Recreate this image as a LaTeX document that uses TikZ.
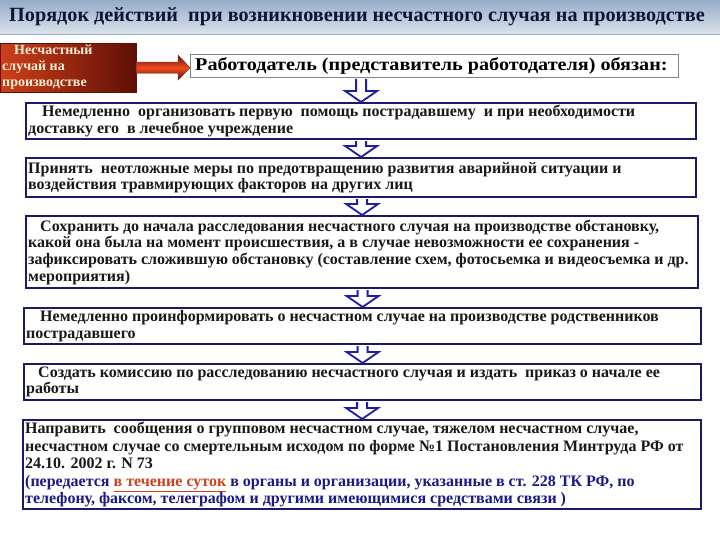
\documentclass[tikz,border=0pt]{standalone}
\usepackage{fontspec}
\setmainfont{Liberation Serif}
\usetikzlibrary{calc}
\definecolor{boxborder}{RGB}{26,26,105}
\definecolor{arrowblue}{RGB}{30,30,165}
\definecolor{titlecol}{RGB}{15,20,55}
\definecolor{bluetxt}{RGB}{25,25,135}
\definecolor{redtxt}{RGB}{205,65,30}
\definecolor{hdrborder}{RGB}{120,140,120}
\definecolor{bandtop}{RGB}{150,172,200}
\definecolor{bandbot}{RGB}{222,228,236}
\definecolor{redlight}{RGB}{240,75,30}
\definecolor{reddark}{RGB}{95,15,5}
\definecolor{creamtxt}{RGB}{255,238,215}
\tikzset{
  stepbox/.style={draw=boxborder, line width=2.2pt, fill=white, rectangle, inner sep=0pt, anchor=north west},
  boxtxt/.style={anchor=west, align=left, inner sep=0pt, font=\bfseries\fontsize{16}{16.6}\selectfont, text=black!90},
  harrow/.style={draw=arrowblue, line width=1.8pt, fill=white, line join=miter},
  redarrow/.style={top color=reddark, bottom color=reddark, middle color=redlight, draw=reddark!80, line width=0.4pt},
}
\newcommand\hollowdown[2]{%
  \draw[harrow] ($(#1.south -| #2.north)+(-5,1)$) -- ($(#2.north)+(-5,-11)$) -- ($(#2.north)+(-16,-11)$) -- (#2.north) -- ($(#2.north)+(16,-11)$) -- ($(#2.north)+(5,-11)$) -- ($(#1.south -| #2.north)+(5,1)$);}
\begin{document}
\begin{tikzpicture}[x=1pt,y=-1pt]
\useasboundingbox (0,0) rectangle (720,540);
\fill[white] (0,0) rectangle (720,540);
% title band
\shade[top color=bandtop, bottom color=bandbot] (0,0) rectangle (720,35);
\draw[bandtop, line width=1pt] (0,35) -- (720,35);
\node[font=\bfseries\fontsize{20.2}{21}\selectfont, text=titlecol, inner sep=0pt] (title) at (357,17) {Порядок действий\ \ при возникновении несчастного случая на производстве};

% red box
\node[rectangle, anchor=north west, minimum width=136pt, minimum height=49pt, inner sep=0pt,
  left color=redlight!85!black, middle color=redlight, right color=reddark, draw=reddark] (acc) at (0,43) {};
\node[anchor=north west, align=left, inner sep=0pt, text=creamtxt, font=\bfseries\fontsize{14}{16}\selectfont] (acctxt) at (2,45) {\hspace*{12pt}Несчастный\\случай на\\производстве};

% header
\node[rectangle, anchor=north west, minimum width=488pt, minimum height=23pt, inner sep=0pt, draw=hdrborder, line width=1pt, fill=white] (hdr) at (190,54) {};
\node[anchor=west, inner sep=0pt, font=\bfseries\fontsize{18}{18}\selectfont] (hdrtxt) at ($(hdr.west)+(5pt,0)$) {\scalebox{1.12}[1]{Работодатель (представитель работодателя) обязан:}};

% red arrow
\fill[redarrow] ($(acc.east)+(0,-5.5)$) -- ($(acc.east -| hdr.west)+(-12,-5.5)$) -- ($(acc.east -| hdr.west)+(-12,-12.5)$) -- (acc.east -| hdr.west) -- ($(acc.east -| hdr.west)+(-12,12.5)$) -- ($(acc.east -| hdr.west)+(-12,5.5)$) -- ($(acc.east)+(0,5.5)$) -- cycle;

% boxes
\node[stepbox, minimum width=670pt, minimum height=36pt] (b1) at (25,102) {};
\node[stepbox, minimum width=670pt, minimum height=39pt] (b2) at (25,157) {};
\node[stepbox, minimum width=672pt, minimum height=72pt] (b3) at (25,215) {};
\node[stepbox, minimum width=677pt, minimum height=36pt] (b4) at (23,307) {};
\node[stepbox, minimum width=677pt, minimum height=36pt] (b5) at (23,363) {};
\node[stepbox, minimum width=678pt, minimum height=89pt] (b6) at (22,419) {};

\node[boxtxt] (t1) at ($(b1.west)+(3pt,0)$) {\hspace*{14pt}Немедленно\ \ организовать первую\ \ помощь пострадавшему\ \ и при необходимости\\доставку его\ \ в лечебное учреждение};
\node[boxtxt] (t2) at ($(b2.west)+(3pt,0)$) {Принять\ \ неотложные меры по предотвращению развития аварийной ситуации и\\воздействия травмирующих факторов на других лиц};
\node[boxtxt] (t3) at ($(b3.west)+(3pt,0)$) {\hspace*{12pt}Сохранить до начала расследования несчастного случая на производстве обстановку,\\какой она была на момент происшествия, а в случае невозможности ее сохранения -\\зафиксировать сложившую обстановку (составление схем, фотосьемка и видеосъемка и др.\\мероприятия)};
\node[boxtxt] (t4) at ($(b4.west)+(3pt,0)$) {\hspace*{14pt}Немедленно проинформировать о несчастном случае на производстве родственников\\пострадавшего};
\node[boxtxt] (t5) at ($(b5.west)+(3pt,0)$) {\hspace*{12pt}Создать комиссию по расследованию несчастного случая и издать\ \ приказ о начале ее\\работы};
\node[boxtxt, font=\bfseries\fontsize{16}{17.5}\selectfont] (t6) at ($(b6.west)+(3pt,0)$) {Направить\ \ сообщения о групповом несчастном случае, тяжелом несчастном случае,\\несчастном случае со смертельным исходом по форме №1 Постановления Минтруда РФ от\\24.10. 2002 г. N 73\\\textcolor{bluetxt}{(передается \textcolor{redtxt}{\underline{в течение суток}} в органы и организации, указанные в ст. 228 ТК РФ, по}\\\textcolor{bluetxt}{телефону, факсом, телеграфом и другими имеющимися средствами связи )}};

% down arrows
\hollowdown{hdr}{b1}
\hollowdown{b1}{b2}
\hollowdown{b2}{b3}
\hollowdown{b3}{b4}
\hollowdown{b4}{b5}
\hollowdown{b5}{b6}
\end{tikzpicture}
\end{document}
